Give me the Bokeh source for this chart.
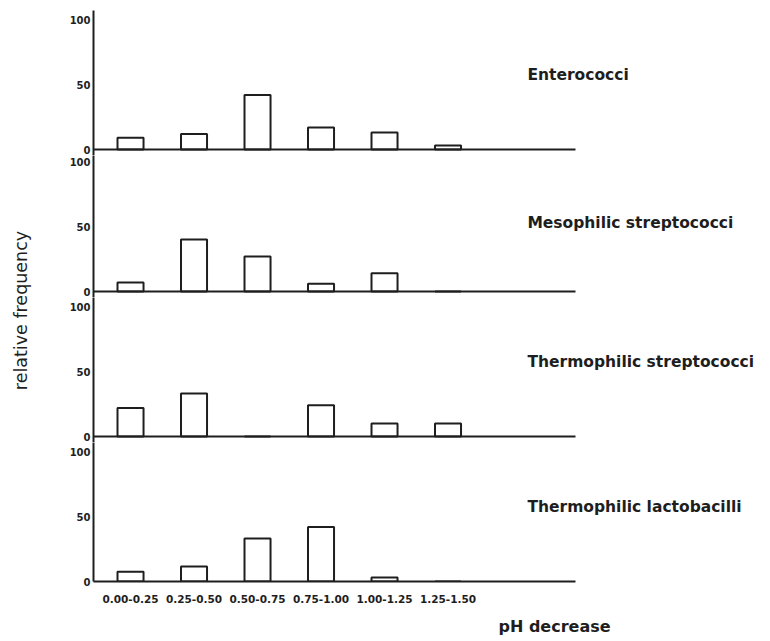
import math
from bokeh.plotting import figure
from bokeh.layouts import column, row
from bokeh.models import FixedTicker, Range1d, Label, ColumnDataSource, Title
from bokeh.embed import file_html
from bokeh.resources import INLINE

# ---- data (relative frequency, %) ----
ph_classes = ["0.00-0.25", "0.25-0.50", "0.50-0.75", "0.75-1.00", "1.00-1.25", "1.25-1.50"]
enterococci = [9, 12, 42, 17, 13, 3]
mesophilic_streptococci = [7, 40, 27, 6, 14, 0]
thermophilic_streptococci = [22, 33, 0, 24, 10, 10]
thermophilic_lactobacilli = [7.5, 11.5, 33, 42, 3, 0]
panel_names = ["Enterococci", "Mesophilic streptococci",
               "Thermophilic streptococci", "Thermophilic lactobacilli"]
y_ticks = [0, 50, 100]
x_title = "pH decrease"
y_title = "relative frequency"

series = [enterococci, mesophilic_streptococci, thermophilic_streptococci, thermophilic_lactobacilli]

INK = "#1e1e1e"
FONT = "DejaVu Sans"
PX = 1.30            # pixels per percent
EXT = 6              # px of frame below the baseline (panels 1-3)
frame_heights = [145, 142, 145, 139]
title_y = [57, 53, 57, 57]
X0, X_AXIS_END = -0.583, 7.008
FRAME_W = 670
UNIT_PX = 63.5

xs = list(range(len(ph_classes)))
figs = []
for i, (vals, name) in enumerate(zip(series, panel_names)):
    last = i == len(series) - 1
    fh = frame_heights[i]
    y0 = 0 if last else -EXT / PX
    p = figure(frame_width=FRAME_W, frame_height=fh,
               x_range=Range1d(X0, X0 + FRAME_W / UNIT_PX),
               y_range=Range1d(y0, y0 + fh / PX),
               output_backend="svg", toolbar_location=None,
               min_border_left=53, min_border_right=0,
               min_border_top=10 if i == 0 else 0,
               min_border_bottom=0)
    p.outline_line_color = None
    p.grid.visible = False
    p.background_fill_color = "white"
    p.border_fill_color = "white"

    src = ColumnDataSource(dict(x=xs, top=vals))
    p.vbar(x="x", top="top", bottom=0, width=0.41, source=src,
           fill_color="white", line_color=INK, line_width=2)

    # y axis
    ya = p.yaxis[0]
    ya.ticker = FixedTicker(ticks=y_ticks)
    ya.major_tick_out = 0
    ya.major_tick_in = 0
    ya.minor_tick_out = 0
    ya.minor_tick_in = 0
    ya.major_label_standoff = 3
    ya.major_label_text_font = FONT
    ya.major_label_text_font_style = "bold"
    ya.major_label_text_font_size = "10px"
    ya.major_label_text_color = INK
    ya.axis_line_color = INK
    ya.axis_line_width = 2

    # x axis (baseline)
    xa = p.xaxis[0]
    xa.bounds = (X0, X_AXIS_END)
    xa.axis_line_color = INK
    xa.axis_line_width = 2
    xa.major_tick_out = 0
    xa.major_tick_in = 0
    xa.minor_tick_out = 0
    xa.minor_tick_in = 0
    if last:
        xa.ticker = FixedTicker(ticks=xs)
        xa.major_label_overrides = {x: lab for x, lab in zip(xs, ph_classes)}
        xa.major_label_standoff = 13
        xa.major_label_text_font = FONT
        xa.major_label_text_font_style = "bold"
        xa.major_label_text_font_size = "10.5px"
        xa.major_label_text_color = INK
        t = Title(text=x_title, align="left", offset=405, standoff=18,
                  text_font=FONT, text_font_style="bold", text_font_size="16px",
                  text_color=INK)
        p.add_layout(t, "below")
    else:
        xa.fixed_location = 0
        xa.ticker = FixedTicker(ticks=[])
        xa.major_label_standoff = 0
        xa.major_label_text_font_size = "0px"

    p.add_layout(Label(x=6.25, y=title_y[i], text=name, text_align="left",
                       text_baseline="middle", text_font=FONT, text_font_style="bold",
                       text_font_size="15.5px", text_color=INK))
    figs.append(p)

# narrow strip holding the shared y-axis title
H = 636
yl = figure(width=40, height=H, x_range=Range1d(0, 40), y_range=Range1d(H, 0),
            x_axis_location=None, y_axis_location=None,
            output_backend="svg", toolbar_location=None,
            min_border_left=0, min_border_right=0, min_border_top=0, min_border_bottom=0)
yl.outline_line_color = None
yl.grid.visible = False
yl.add_layout(Label(x=20, y=310, text=y_title, angle=math.pi / 2,
                    text_align="center", text_baseline="middle",
                    text_font=FONT, text_font_size="17.5px", text_color=INK))

layout = row(yl, column(*figs, spacing=0), spacing=0)
open("out.html", "w").write(file_html(layout, INLINE))
